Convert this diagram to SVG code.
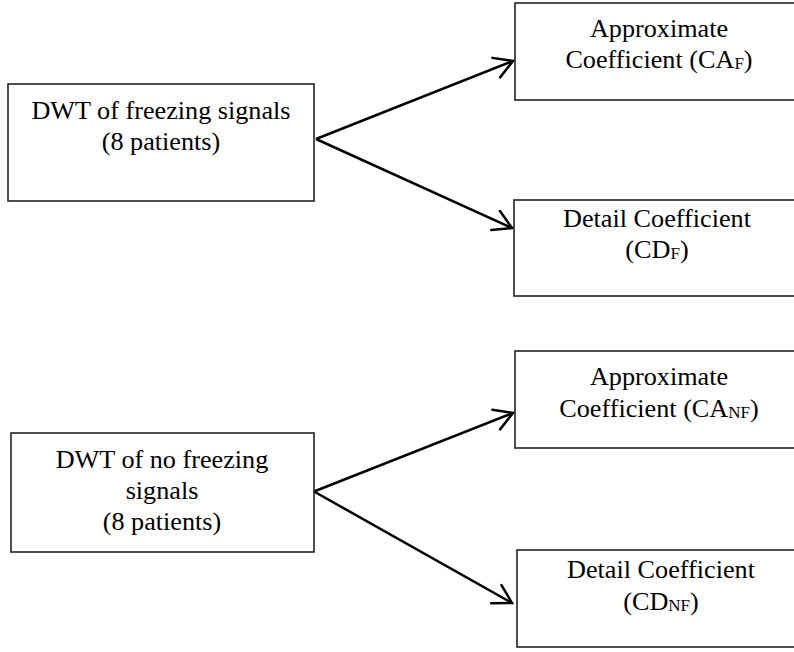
<svg xmlns="http://www.w3.org/2000/svg" width="794" height="652" viewBox="0 0 794 652">
<style>
.box{fill:#fff;stroke:#222;stroke-width:1.6}
.t{font-family:"Times New Roman","Liberation Serif",serif;font-size:26.2px;fill:#000;text-anchor:middle}
.sub{font-size:17px}
.conn{fill:none;stroke:#000;stroke-width:2.5}
</style>
<defs>
<marker id="arr" markerUnits="userSpaceOnUse" markerWidth="30" markerHeight="30" viewBox="-22 -15 30 30" refX="0" refY="0" orient="auto">
<path d="M-18,-10.5 L0,0 L-18,10.5" fill="none" stroke="#000" stroke-width="2.5" stroke-linecap="round" stroke-linejoin="miter"/>
</marker>
</defs>
<rect width="794" height="652" fill="#fff"/>
<g id="connectors">
<path class="conn" d="M316,139 L513,61" marker-end="url(#arr)"/>
<path class="conn" d="M316,139 L512,228" marker-end="url(#arr)"/>
<path class="conn" d="M314,491.5 L513,413" marker-end="url(#arr)"/>
<path class="conn" d="M314,491.5 L512,603" marker-end="url(#arr)"/>
</g>
<g id="dwt-freezing">
<rect class="box" x="8" y="84" width="306" height="117"/>
<text class="t" x="161" y="119">DWT of freezing signals</text>
<text class="t" x="161" y="150">(8 patients)</text>
</g>
<g id="ca-f">
<rect class="box" x="515" y="3" width="300" height="97"/>
<text class="t" x="659" y="37">Approximate</text>
<text class="t" x="659" y="68">Coefficient (CA<tspan class="sub" dy="1">F</tspan><tspan dy="-1">)</tspan></text>
</g>
<g id="cd-f">
<rect class="box" x="514" y="200" width="300" height="96"/>
<text class="t" x="657" y="227">Detail Coefficient</text>
<text class="t" x="657" y="258">(CD<tspan class="sub" dy="1">F</tspan><tspan dy="-1">)</tspan></text>
</g>
<g id="dwt-no-freezing">
<rect class="box" x="11" y="433" width="303" height="119"/>
<text class="t" x="162" y="468">DWT of no freezing</text>
<text class="t" x="162" y="499">signals</text>
<text class="t" x="162" y="530">(8 patients)</text>
</g>
<g id="ca-nf">
<rect class="box" x="515" y="351" width="300" height="97"/>
<text class="t" x="659" y="385">Approximate</text>
<text class="t" x="659" y="417">Coefficient (CA<tspan class="sub" dy="1">NF</tspan><tspan dy="-1">)</tspan></text>
</g>
<g id="cd-nf">
<rect class="box" x="517" y="550" width="300" height="97"/>
<text class="t" x="661" y="578">Detail Coefficient</text>
<text class="t" x="661" y="610">(CD<tspan class="sub" dy="1">NF</tspan><tspan dy="-1">)</tspan></text>
</g>
</svg>
